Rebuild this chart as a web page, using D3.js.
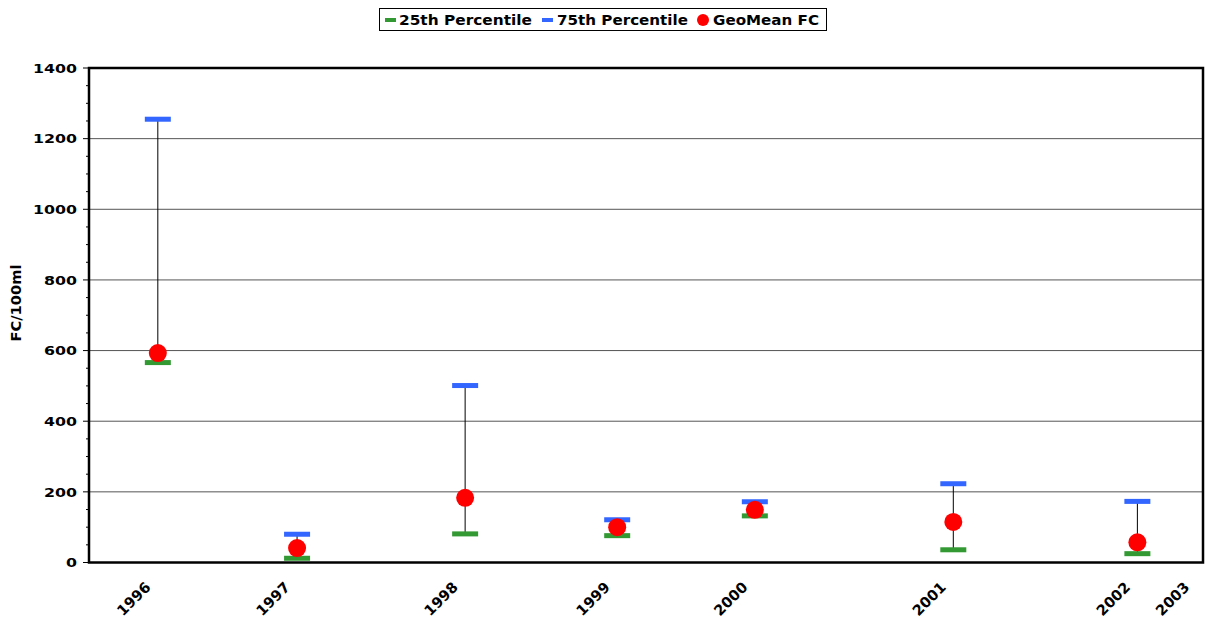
<!DOCTYPE html>
<html>
<head>
<meta charset="utf-8">
<script src="https://cdn.jsdelivr.net/npm/d3@7"></script>
<style>
  html, body { margin: 0; padding: 0; background: #fff; }
  svg { display: block; }
  text { font-family: "DejaVu Sans", Verdana, sans-serif; font-weight: bold; fill: #000; }
</style>
</head>
<body>
<svg id="chart" width="1211" height="622"></svg>
<script>
// Sampling time of each yearly summary (decimal years)
const sampleYears = [1996.51, 1997.38, 1998.43, 1999.38, 2000.24, 2001.48, 2002.63];
// Faecal coliform statistics, FC/100ml
const p25 = [566, 12, 81, 76, 132, 36, 25];
const p75 = [1255, 80, 501, 121, 172, 223, 173];
const geoMean = [593, 41, 183, 100, 149, 115, 57];
// X tick labels and the positions they sit at (last one has no data)
const tickYears = [1996.51, 1997.38, 1998.43, 1999.38, 2000.24, 2001.48, 2002.63, 2003.0];
const tickLabels = ["1996", "1997", "1998", "1999", "2000", "2001", "2002", "2003"];
const yTicks = [0, 200, 400, 600, 800, 1000, 1200, 1400];

const svg = d3.select("#chart");
const plotL = 89, plotR = 1203, plotT = 68, plotB = 562.5;

const x = d3.scaleLinear().domain([1996.08, 2003.04]).range([plotL, plotR]);
const y = d3.scaleLinear().domain([0, 1400]).range([plotB, plotT]);

// Gridlines
svg.append("g").selectAll("line")
  .data(yTicks.filter(d => d > 0 && d < 1400))
  .join("line")
  .attr("x1", plotL).attr("x2", plotR)
  .attr("y1", d => y(d)).attr("y2", d => y(d))
  .attr("stroke", "#555").attr("stroke-width", 1);

// Minor ticks every 50
svg.append("g").selectAll("line")
  .data(d3.range(0, 1401, 50))
  .join("line")
  .attr("x1", d => d % 200 === 0 ? plotL - 6 : plotL - 3).attr("x2", plotL)
  .attr("y1", d => y(d)).attr("y2", d => y(d))
  .attr("stroke", "#000").attr("stroke-width", 1);

// Y tick labels
svg.append("g").selectAll("text")
  .data(yTicks)
  .join("text")
  .attr("x", plotL - 12)
  .attr("y", d => y(d))
  .attr("dy", "0.36em")
  .attr("text-anchor", "end")
  .attr("font-size", 13)
  .attr("textLength", d => String(d).length * 11)
  .attr("lengthAdjust", "spacingAndGlyphs")
  .text(d => d);

// Y axis title
svg.append("text")
  .attr("transform", "translate(21,303) rotate(-90)")
  .attr("text-anchor", "middle")
  .attr("font-size", 14)
  .attr("textLength", 77)
  .attr("lengthAdjust", "spacingAndGlyphs")
  .text("FC/100ml");

// X tick labels
svg.append("g").selectAll("text")
  .data(tickYears)
  .join("text")
  .attr("transform", d => `translate(${x(d) - 14},${plotB + 18}) rotate(-45)`)
  .attr("text-anchor", "end")
  .attr("dy", "0.75em")
  .attr("font-size", 14.5)
  .text((d, i) => tickLabels[i]);

// Whiskers between percentiles
svg.append("g").selectAll("line")
  .data(sampleYears)
  .join("line")
  .attr("x1", d => x(d)).attr("x2", d => x(d))
  .attr("y1", (d, i) => y(p25[i])).attr("y2", (d, i) => y(p75[i]))
  .attr("stroke", "#000").attr("stroke-width", 1);

// Percentile markers
const barW = 26, barH = 5;
svg.append("g").selectAll("rect")
  .data(sampleYears)
  .join("rect")
  .attr("x", d => x(d) - barW / 2)
  .attr("y", (d, i) => y(p25[i]) - barH / 2)
  .attr("width", barW).attr("height", barH)
  .attr("fill", "#339933");
svg.append("g").selectAll("rect")
  .data(sampleYears)
  .join("rect")
  .attr("x", d => x(d) - barW / 2)
  .attr("y", (d, i) => y(p75[i]) - barH / 2)
  .attr("width", barW).attr("height", barH)
  .attr("fill", "#3366ff");

// Geometric means
svg.append("g").selectAll("circle")
  .data(sampleYears)
  .join("circle")
  .attr("cx", d => x(d))
  .attr("cy", (d, i) => y(geoMean[i]))
  .attr("r", 9)
  .attr("fill", "#ff0000");

// Plot frame
svg.append("rect")
  .attr("x", plotL).attr("y", plotT)
  .attr("width", plotR - plotL).attr("height", plotB - plotT)
  .attr("fill", "none").attr("stroke", "#000").attr("stroke-width", 2.5);

// Legend
const lg = svg.append("g");
lg.append("rect")
  .attr("x", 379.5).attr("y", 8.5).attr("width", 447).attr("height", 22)
  .attr("fill", "#fff").attr("stroke", "#000").attr("stroke-width", 1);
const legendItems = [
  { label: "25th Percentile", color: "#339933", type: "dash", sx: 385, tx: 399, w: 133 },
  { label: "75th Percentile", color: "#3366ff", type: "dash", sx: 542, tx: 557, w: 131 },
  { label: "GeoMean FC", color: "#ff0000", type: "dot", sx: 697, tx: 713, w: 106 }
];
legendItems.forEach(it => {
  if (it.type === "dash") {
    lg.append("rect").attr("x", it.sx).attr("y", 18).attr("width", 11).attr("height", 4).attr("fill", it.color);
  } else {
    lg.append("circle").attr("cx", it.sx + 6).attr("cy", 20).attr("r", 6).attr("fill", it.color);
  }
  lg.append("text")
    .attr("x", it.tx).attr("y", 20).attr("dy", "0.36em")
    .attr("font-size", 14)
    .attr("textLength", it.w)
    .attr("lengthAdjust", "spacingAndGlyphs")
    .text(it.label);
});
</script>
</body>
</html>
